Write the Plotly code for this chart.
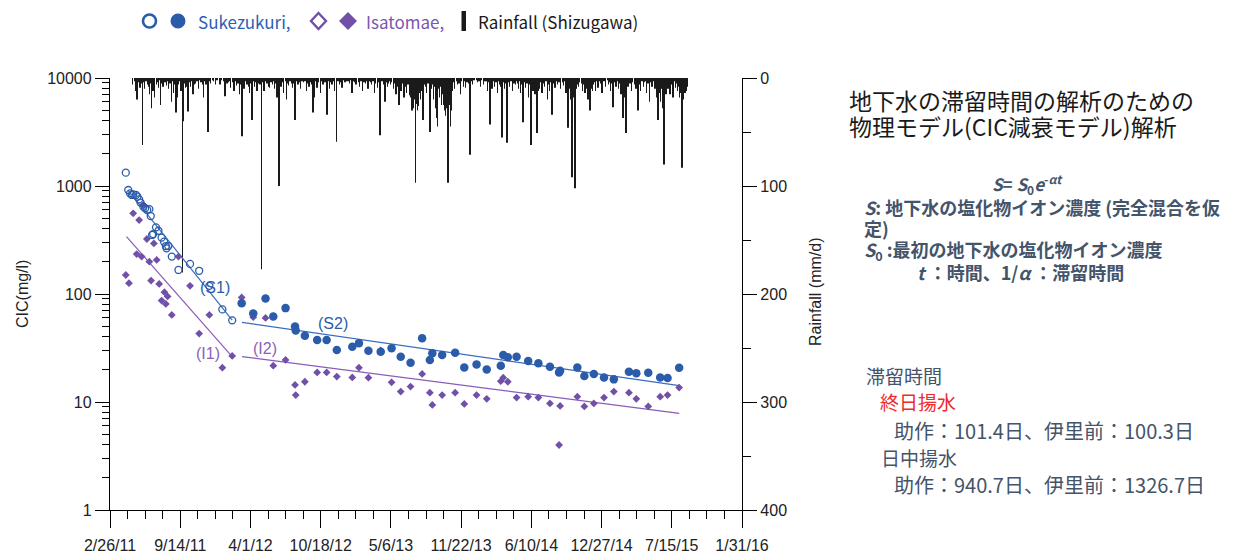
import math
import plotly.graph_objects as go

# ---------------- data ----------------
x_start = "2011-02-26"
x_end = "2016-01-31"
x_tick_dates = ["2011-02-26", "2011-09-14", "2012-04-01", "2012-10-18", "2013-05-06",
                "2013-11-22", "2014-06-10", "2014-12-27", "2015-07-15", "2016-01-31"]
x_tick_labels = ["2/26/11", "9/14/11", "4/1/12", "10/18/12", "5/6/13",
                 "11/22/13", "6/10/14", "12/27/14", "7/15/15", "1/31/16"]

cic_tick_vals = [1, 10, 100, 1000, 10000]
cic_tick_labels = ["1", "10", "100", "1000", "10000"]
rain_tick_vals = [0, 100, 200, 300, 400]

# Sukezukuri, all-day pumping period (open circles)
suke1_dates = ["2011-04-12", "2011-04-19", "2011-04-24", "2011-04-29", "2011-05-03", "2011-05-11",
               "2011-05-15", "2011-05-20", "2011-05-24", "2011-06-01", "2011-06-06", "2011-06-12",
               "2011-06-18", "2011-06-22", "2011-06-26", "2011-06-29", "2011-07-07", "2011-07-14",
               "2011-07-23", "2011-07-30", "2011-08-04", "2011-08-06", "2011-08-11", "2011-08-21",
               "2011-09-09", "2011-10-12", "2011-11-07", "2011-12-06", "2012-01-12", "2012-02-09"]
suke1_cic = [1328, 918, 855, 826, 838, 826, 796, 753, 702, 644, 622, 600,
             610, 527, 352, 359, 414, 385, 333, 305, 278, 265, 278, 222,
             167, 190, 164, 119, 72, 57]

# Sukezukuri, daytime pumping period (filled circles)
suke2_dates = ["2012-03-07", "2012-04-09", "2012-05-14", "2012-06-05", "2012-07-10", "2012-08-06",
               "2012-08-08", "2012-09-03", "2012-10-08", "2012-11-04", "2012-12-03", "2013-01-16",
               "2013-02-04", "2013-03-03", "2013-04-07", "2013-05-08", "2013-06-03", "2013-07-01",
               "2013-08-03", "2013-08-25", "2013-09-01", "2013-09-29", "2013-11-05", "2013-12-01",
               "2014-01-05", "2014-02-03", "2014-03-15", "2014-03-22", "2014-04-04", "2014-04-29",
               "2014-06-01", "2014-06-30", "2014-08-02", "2014-08-28", "2014-08-31", "2014-10-19",
               "2014-11-08", "2014-12-05", "2015-01-03", "2015-01-31", "2015-03-15", "2015-04-05",
               "2015-05-09", "2015-06-12", "2015-07-03", "2015-08-05"]
suke2_cic = [82, 66, 91, 62, 74, 50,
             46, 41, 37.5, 37.5, 30.3, 32.5,
             35, 29.8, 29.2, 31.4, 26.3, 23.1,
             38.9, 24.5, 28.3, 27.2, 28.6, 20.9,
             22.3, 20.0, 21.7, 27.2, 25.9, 26.3,
             24.0, 22.8, 21.2, 18.8, 19.5, 20.9,
             17.4, 18.2, 16.9, 16.2, 19.1, 18.5,
             18.7, 16.9, 16.7, 20.8]

# Isatomae (filled diamonds)
isa_dates = ["2011-04-12", "2011-04-21", "2011-05-03", "2011-05-13", "2011-05-20", "2011-05-27",
             "2011-06-01", "2011-06-11", "2011-06-18", "2011-06-23", "2011-07-01", "2011-07-09",
             "2011-07-16", "2011-07-23", "2011-07-31", "2011-08-04", "2011-08-09", "2011-08-21",
             "2011-09-09", "2011-10-12", "2011-11-07", "2011-12-06", "2012-01-12", "2012-02-09",
             "2012-03-07", "2012-04-09", "2012-05-14", "2012-06-05", "2012-07-10", "2012-08-06",
             "2012-08-08", "2012-09-03", "2012-10-08", "2012-11-04", "2012-12-03", "2013-01-16",
             "2013-02-04", "2013-03-03", "2013-04-07", "2013-05-08", "2013-06-03", "2013-07-01",
             "2013-08-03", "2013-08-25", "2013-09-01", "2013-09-29", "2013-11-05", "2013-12-01",
             "2014-01-05", "2014-02-03", "2014-03-15", "2014-03-22", "2014-04-04", "2014-04-29",
             "2014-06-01", "2014-06-30", "2014-08-02", "2014-08-28", "2014-08-31", "2014-10-19",
             "2014-11-08", "2014-12-05", "2015-01-03", "2015-01-31", "2015-03-15", "2015-04-05",
             "2015-05-09", "2015-06-12", "2015-07-03", "2015-08-05"]
isa_cic = [150, 126, 559, 234, 484, 222,
           667, 323, 199, 133, 294, 207,
           124, 87, 104, 81, 95, 64,
           222, 119, 43, 64, 20.8, 26.7,
           93, 61, 60, 21.7, 24.5, 14.4,
           11.6, 15.4, 18.8, 18.8, 17.2, 16.9,
           20.8, 16.8, 30.0, 15.2, 12.5, 13.9,
           18.2, 12.2, 9.4, 11.6, 12.2, 9.6,
           11.6, 10.7, 15.6, 16.8, 15.4, 11.0,
           11.2, 11.0, 9.7, 4.0, 9.2, 11.2,
           9.1, 9.7, 11.0, 12.5, 12.2, 10.7,
           9.1, 11.2, 11.6, 13.6]

# decay-model fit lines (end points)
fit_s1_dates = ["2011-04-19", "2012-02-09"]
fit_s1_cic = [906, 57.4]
fit_i1_dates = ["2011-04-14", "2012-02-07"]
fit_i1_cic = [340, 26.7]
fit_s2_dates = ["2012-03-08", "2015-08-05"]
fit_s2_cic = [54.7, 14.2]
fit_i2_dates = ["2012-03-08", "2015-08-05"]
fit_i2_cic = [26.3, 7.85]

# fit-line labels
fit_label_text = ["(S1)", "(I1)", "(I2)", "(S2)"]
fit_label_dates = ["2011-12-22", "2011-12-02", "2012-05-12", "2012-11-22"]
fit_label_cic = [116, 28.4, 31.6, 53.8]

# daily rainfall (Shizugawa), by month: day-of-month and mm
rain_months = ["2011-05", "2011-06", "2011-07", "2011-08", "2011-09", "2011-10", "2011-11", "2011-12",
               "2012-01", "2012-02", "2012-03", "2012-04", "2012-05", "2012-06", "2012-07", "2012-08",
               "2012-09", "2012-10", "2012-11", "2012-12", "2013-01", "2013-02", "2013-03", "2013-04",
               "2013-05", "2013-06", "2013-07", "2013-08", "2013-09", "2013-10", "2013-11", "2013-12",
               "2014-01", "2014-02", "2014-03", "2014-04", "2014-05", "2014-06", "2014-07", "2014-08",
               "2014-09", "2014-10", "2014-11", "2014-12", "2015-01", "2015-02", "2015-03", "2015-04",
               "2015-05", "2015-06", "2015-07", "2015-08"]
rain_days = [
    [2, 6, 10, 14, 18, 22, 26, 29, 30],
    [3, 5, 9, 12, 16, 19, 22, 25, 28],
    [1, 3, 8, 11, 15, 18, 20, 24, 27, 30],
    [2, 5, 9, 12, 16, 20, 23, 26, 29],
    [2, 5, 8, 10, 13, 16, 19, 21, 22, 26, 29],
    [2, 6, 9, 13, 16, 20, 24, 28],
    [1, 5, 9, 12, 16, 19, 23, 26, 29],
    [2, 6, 10, 14, 18, 23, 28],
    [5, 10, 15, 20, 25, 28],
    [1, 5, 9, 14, 18, 22, 26, 29],
    [3, 8, 11, 14, 18, 22, 26, 30],
    [2, 5, 9, 12, 16, 20, 24, 28],
    [3, 6, 10, 14, 18, 22, 26, 30],
    [2, 5, 8, 12, 16, 19, 21, 24, 27],
    [1, 5, 9, 12, 16, 19, 23, 27, 30],
    [3, 6, 10, 14, 18, 22, 26, 30],
    [3, 7, 11, 15, 19, 22, 26, 30],
    [4, 8, 12, 17, 21, 25, 29],
    [2, 5, 9, 12, 16, 19, 23, 27],
    [3, 6, 10, 14, 18, 22, 26, 30],
    [4, 8, 12, 15, 20, 24, 27],
    [2, 6, 10, 14, 18, 22, 26],
    [2, 6, 9, 12, 16, 20, 24, 28],
    [2, 5, 7, 11, 15, 19, 23, 26, 29],
    [1, 4, 8, 13, 17, 21, 25, 29],
    [1, 4, 8, 12, 16, 20, 24, 28],
    [1, 3, 5, 7, 9, 11, 13, 16, 18, 20, 22, 24, 27, 30],
    [2, 5, 8, 12, 16, 20, 25, 28],
    [1, 4, 7, 10, 14, 16, 19, 22, 25, 28],
    [1, 3, 5, 7, 9, 11, 13, 15, 16, 18, 20, 22, 24, 26, 28],
    [1, 4, 8, 12, 16, 20, 24, 28],
    [2, 5, 9, 13, 17, 21, 25, 29],
    [4, 8, 12, 16, 20, 25, 29],
    [1, 5, 9, 12, 15, 18, 22, 26],
    [1, 5, 8, 11, 14, 18, 22, 26, 30],
    [2, 5, 9, 13, 18, 22, 26, 30],
    [1, 4, 7, 10, 13, 17, 21, 25, 29],
    [2, 5, 9, 12, 15, 18, 20, 23, 26, 29],
    [1, 4, 7, 10, 14, 18, 22, 26, 30],
    [1, 4, 8, 12, 16, 20, 24, 28],
    [2, 6, 10, 14, 17, 20, 22, 25, 28],
    [1, 2, 4, 6, 8, 10, 12, 14, 16, 19, 22, 26, 30],
    [2, 5, 8, 10, 13, 16, 18, 21, 24, 26, 28],
    [1, 4, 7, 10, 14, 17, 21, 25, 28],
    [3, 8, 12, 16, 19, 22, 26, 29],
    [2, 6, 10, 14, 17, 20, 23, 26],
    [1, 3, 5, 7, 10, 14, 18, 22, 26, 30],
    [1, 4, 7, 10, 13, 17, 21, 26, 29],
    [1, 4, 8, 12, 16, 20, 24, 28],
    [1, 3, 6, 9, 12, 15, 18, 20, 23, 26, 29],
    [1, 4, 7, 10, 14, 18, 22, 25, 29],
    [1, 3, 6, 9, 11, 13, 15, 17, 20, 22, 25, 28],
]
rain_mm = [
    [6, 3, 12, 20, 4, 9, 5, 35, 62],
    [4, 10, 3, 6, 8, 15, 5, 28, 12],
    [3, 18, 6, 4, 9, 2, 25, 5, 8, 3],
    [4, 7, 3, 10, 5, 22, 3, 14, 6],
    [32, 18, 4, 6, 3, 12, 8, 180, 40, 5, 9],
    [8, 31, 4, 8, 3, 15, 6, 5],
    [3, 10, 2, 4, 6, 18, 3, 6, 4],
    [50, 3, 5, 2, 3, 6, 2],
    [6, 2, 3, 17, 5, 4],
    [3, 9, 4, 12, 3, 7, 5, 15],
    [6, 54, 4, 10, 3, 6, 8, 14],
    [5, 39, 3, 8, 4, 12, 5, 6],
    [177, 4, 12, 3, 5, 8, 9, 4],
    [6, 3, 10, 5, 18, 4, 100, 6, 8],
    [4, 14, 3, 20, 5, 7, 3, 5, 9],
    [5, 39, 3, 6, 4, 10, 3, 4],
    [3, 12, 5, 8, 4, 6, 32, 18],
    [3, 9, 4, 14, 3, 6, 4],
    [4, 34, 3, 10, 4, 6, 3, 12],
    [59, 3, 6, 4, 9, 2, 4, 3],
    [3, 5, 2, 14, 3, 4, 6],
    [4, 8, 3, 12, 4, 5, 3],
    [10, 3, 4, 6, 3, 14, 5, 9],
    [4, 53, 12, 3, 6, 22, 4, 8, 5],
    [3, 6, 4, 10, 5, 15, 8, 25],
    [6, 12, 5, 18, 8, 14, 6, 16],
    [18, 25, 30, 22, 28, 15, 20, 97, 24, 30, 18, 26, 14, 20],
    [12, 39, 6, 8, 14, 5, 50, 10],
    [6, 20, 8, 28, 37, 45, 10, 18, 8, 25],
    [15, 25, 30, 22, 35, 28, 20, 40, 97, 30, 25, 45, 30, 20, 12],
    [4, 10, 3, 6, 5, 15, 3, 8],
    [3, 9, 4, 5, 71, 3, 6, 2],
    [2, 4, 3, 8, 2, 6, 3],
    [3, 12, 4, 43, 6, 10, 3, 8],
    [4, 14, 3, 6, 8, 55, 4, 10, 5],
    [60, 4, 8, 3, 12, 5, 6, 3],
    [5, 10, 3, 14, 6, 41, 4, 9, 5],
    [18, 6, 62, 8, 12, 10, 15, 8, 51, 12],
    [6, 10, 4, 14, 5, 8, 3, 20, 6],
    [12, 4, 34, 5, 9, 3, 6, 4],
    [10, 4, 7, 3, 14, 6, 46, 5, 10],
    [20, 14, 92, 30, 12, 18, 102, 25, 10, 6, 8, 4, 5],
    [12, 6, 8, 14, 10, 6, 20, 12, 30, 8, 10],
    [12, 6, 4, 12, 3, 9, 3, 5, 14],
    [3, 8, 2, 6, 4, 12, 5, 27],
    [4, 8, 3, 10, 5, 15, 6, 37],
    [18, 12, 20, 51, 8, 8, 5, 12, 4, 6],
    [5, 10, 4, 30, 6, 12, 3, 8, 4],
    [3, 14, 5, 22, 4, 8, 3, 10],
    [18, 12, 39, 14, 22, 10, 28, 12, 80, 12, 15],
    [8, 10, 4, 15, 6, 18, 3, 9, 5],
    [12, 8, 18, 14, 20, 83, 15, 20, 10, 14, 12, 8],
]

rain_dates = []
rain_values = []
for m, days, vals in zip(rain_months, rain_days, rain_mm):
    for d, v in zip(days, vals):
        rain_dates.append(f"{m}-{d:02d}")
        rain_values.append(v)

# ---------------- style ----------------
BLUE = "#2a5caa"
BLUE_LINE = "#3a6cc0"
PURPLE = "#7150a8"
PURPLE_LINE = "#8a5cb8"
PURPLE_TXT = "#8a62b8"
SLATE = "#44546a"
DAY_MS = 86400000
CJK = "Noto Sans CJK JP"

W, H = 1233, 557
L, R, T, B = 110, 742, 78, 510


def px(xp):
    return (xp - L) / (R - L)


def py(yp):
    return (B - yp) / (B - T)


fig = go.Figure()

fig.add_trace(go.Bar(x=rain_dates, y=rain_values, yaxis="y", width=DAY_MS,
                     marker=dict(color="#1a1a1a", line=dict(width=0)),
                     showlegend=False, hoverinfo="x+y"))

for xs, ys, col in [(fit_s1_dates, fit_s1_cic, BLUE_LINE), (fit_i1_dates, fit_i1_cic, PURPLE_LINE),
                    (fit_s2_dates, fit_s2_cic, BLUE_LINE), (fit_i2_dates, fit_i2_cic, PURPLE_LINE)]:
    fig.add_trace(go.Scatter(x=xs, y=ys, yaxis="y2", mode="lines",
                             line=dict(color=col, width=1.2), showlegend=False))

fig.add_trace(go.Scatter(x=isa_dates, y=isa_cic, yaxis="y2", mode="markers",
                         marker=dict(symbol="diamond", size=6, color=PURPLE), showlegend=False))
fig.add_trace(go.Scatter(x=suke1_dates, y=suke1_cic, yaxis="y2", mode="markers",
                         marker=dict(symbol="circle-open", size=7, color=BLUE, line=dict(width=1.3)),
                         showlegend=False))
fig.add_trace(go.Scatter(x=suke2_dates, y=suke2_cic, yaxis="y2", mode="markers",
                         marker=dict(symbol="circle", size=8.5, color=BLUE), showlegend=False))

axis_font = dict(family="Arial", size=16, color="#222")

fig.update_layout(
    width=W, height=H,
    margin=dict(l=L, r=W - R, t=T, b=H - B, pad=0, autoexpand=False),
    paper_bgcolor="white", plot_bgcolor="white",
    showlegend=False,
    xaxis=dict(type="date", range=[x_start, x_end], tickmode="array",
               tickvals=x_tick_dates, ticktext=x_tick_labels, automargin=False,
               ticks="outside", ticklen=17, tickwidth=1.2, tickcolor="black",
               ticklabelstandoff=4,
               showline=True, linecolor="black", linewidth=1.3,
               showgrid=False, zeroline=False, tickfont=axis_font,
               minor=dict(tickmode="linear", tick0=x_start, dtick=50 * DAY_MS,
                          ticks="outside", ticklen=8, tickwidth=1.2, tickcolor="black",
                          showgrid=False)),
    yaxis=dict(range=[400, 0], side="right", anchor="x", automargin=False,
               tickmode="array", tickvals=rain_tick_vals,
               ticks="outside", ticklen=14, tickwidth=1.2, tickcolor="black",
               showline=True, linecolor="black", linewidth=1.3,
               showgrid=False, zeroline=False, tickfont=axis_font,
               minor=dict(tickmode="linear", tick0=0, dtick=50, ticks="outside",
                          ticklen=8, tickwidth=1.2, tickcolor="black", showgrid=False)),
    yaxis2=dict(type="log", range=[0, 4], side="left", overlaying="y", anchor="x", automargin=False,
                tickmode="array", tickvals=cic_tick_vals, ticktext=cic_tick_labels,
                ticks="outside", ticklen=14, tickwidth=1.2, tickcolor="black",
                showline=True, linecolor="black", linewidth=1.3,
                showgrid=False, zeroline=False, tickfont=axis_font,
                minor=dict(tickmode="array",
                           tickvals=[m * 10 ** e for e in range(4) for m in range(2, 10)],
                           ticks="outside", ticklen=7, tickwidth=1.2, tickcolor="black",
                           showgrid=False)),
)

ann = []


def label(text, xp, yp, size, color, family=CJK, anchor="left", angle=0):
    ann.append(dict(text=text, x=px(xp), y=py(yp), xref="paper", yref="paper",
                    xanchor=anchor, yanchor="middle", textangle=angle, showarrow=False,
                    font=dict(family=family, size=size, color=color)))


# axis titles
label("CIC(mg/l)", 22, 294, 16, "#222", family="Arial", anchor="center", angle=-90)
label("Rainfall (mm/d)", 815, 292, 16, "#222", family="Arial", anchor="center", angle=-90)

# fit line labels (data coordinates)
for txt, xd, yv, col in zip(fit_label_text, fit_label_dates, fit_label_cic,
                            [BLUE, PURPLE_TXT, PURPLE_TXT, BLUE]):
    ann.append(dict(text=txt, x=xd, y=math.log10(yv), xref="x", yref="y2", showarrow=False,
                    xanchor="center", yanchor="middle",
                    font=dict(family="Arial", size=16, color=col)))

# legend
label("Sukezukuri,", 196, 21, 17, "#2e5fb3")
label("Isatomae,", 364, 21, 17, "#7a56b3")
label("Rainfall (Shizugawa)", 476, 21, 17, "#1a1a1a")

# right-hand text
label("地下水の滞留時間の解析のための", 847, 100, 23, "#1a1a1a")
label("物理モデル(CIC減衰モデル)解析", 847, 126, 23, "#1a1a1a")

label("<b><i>S</i>= <i>S</i><sub>0</sub><i>e</i><sup>-<i>αt</i></sup></b>", 1027, 184, 17, SLATE,
      anchor="center")
label("<b><i>S</i>: 地下水の塩化物イオン濃度 (完全混合を仮</b>", 862, 207, 18, SLATE)
label("<b>定)</b>", 862, 228, 18, SLATE)
label("<b><i>S</i><sub>0</sub> :最初の地下水の塩化物イオン濃度</b>", 862, 250, 18, SLATE)
label("<b><i>t</i> ：時間、1/<i>α</i> ：滞留時間</b>", 915, 272, 18, SLATE)

label("滞留時間", 864, 375, 19, SLATE)
label("終日揚水", 878, 401, 19, "#ee2a2a")
label("助作：101.4日、伊里前：100.3日", 892, 430, 20, SLATE)
label("日中揚水", 879, 457, 19, SLATE)
label("助作：940.7日、伊里前：1326.7日", 892, 484, 20, SLATE)

fig.update_layout(annotations=ann)

# legend symbols
shapes = []
shapes.append(dict(type="circle", xref="paper", yref="paper", x0=px(143), x1=px(156),
                   y0=py(27.5), y1=py(14.5), line=dict(color=BLUE, width=2.6)))
shapes.append(dict(type="circle", xref="paper", yref="paper", x0=px(170.5), x1=px(185.5),
                   y0=py(28.5), y1=py(13.5), fillcolor=BLUE, line=dict(color=BLUE, width=0)))
shapes.append(dict(type="path", xref="paper", yref="paper",
                   path=f"M {px(318.5)},{py(13)} L {px(326)},{py(21)} L {px(318.5)},{py(29)} L {px(311)},{py(21)} Z",
                   line=dict(color=PURPLE, width=2.4)))
shapes.append(dict(type="path", xref="paper", yref="paper",
                   path=f"M {px(348)},{py(12)} L {px(357)},{py(21)} L {px(348)},{py(30)} L {px(339)},{py(21)} Z",
                   fillcolor=PURPLE, line=dict(color=PURPLE, width=0)))
shapes.append(dict(type="rect", xref="paper", yref="paper", x0=px(461.5), x1=px(466),
                   y0=py(31), y1=py(11), fillcolor="#1a1a1a", line=dict(width=0)))
fig.update_layout(shapes=shapes)

fig.write_html("out.html", config={"displayModeBar": False},
               post_script="document.body.style.margin='0px';")
